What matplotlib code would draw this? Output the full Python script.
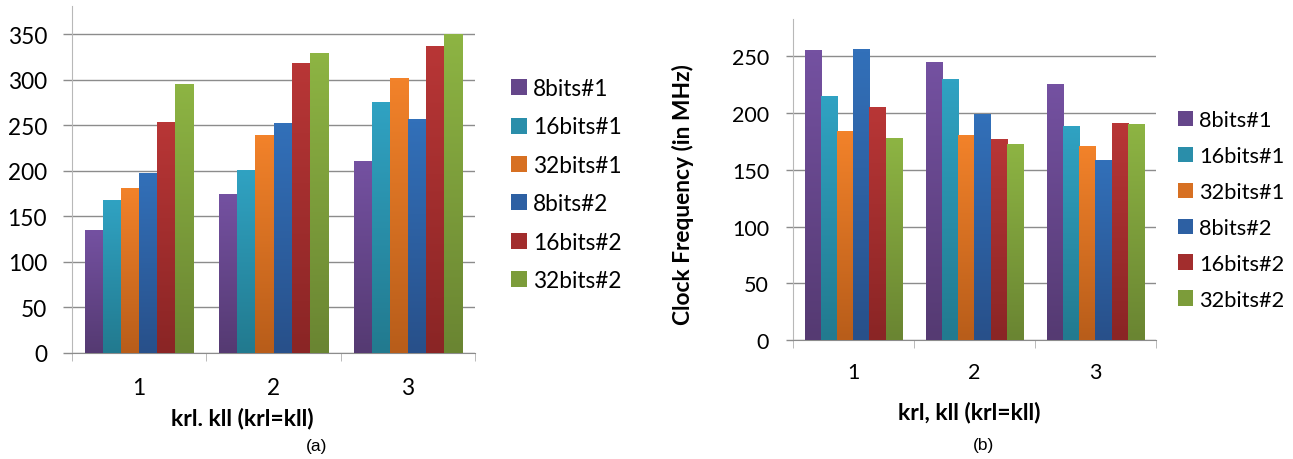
import matplotlib
matplotlib.use("Agg")
import matplotlib.pyplot as plt
import numpy as np
from matplotlib.patches import Patch
from matplotlib.colors import LinearSegmentedColormap

plt.rcParams['font.family'] = ['Lato', 'DejaVu Sans']

categories = ["1", "2", "3"]
series = ["8bits#1", "16bits#1", "32bits#1", "8bits#2", "16bits#2", "32bits#2"]
vals_a = {
    "8bits#1":  [134, 174, 210],
    "16bits#1": [167, 200, 275],
    "32bits#1": [181, 239, 301],
    "8bits#2":  [197, 252, 256],
    "16bits#2": [253, 318, 336],
    "32bits#2": [295, 329, 350],
}
vals_b = {
    "8bits#1":  [255, 245, 225],
    "16bits#1": [215, 230, 188],
    "32bits#1": [184, 180, 171],
    "8bits#2":  [256, 199, 158],
    "16bits#2": [205, 177, 191],
    "32bits#2": [178, 172, 190],
}
top_colors = ["#7451a1", "#30a2c2", "#f2822a", "#3270b9", "#b83636", "#8db443"]
bot_colors = ["#553a72", "#227a8f", "#b85d1a", "#28508a", "#8a2525", "#6a8532"]
mid_colors = ["#65468a", "#2a8eaa", "#d77022", "#2d60a3", "#a22d2d", "#7c9c3a"]

W, H = 1293, 460
fig = plt.figure(figsize=(W / 100, H / 100), dpi=100)

def make_axes(rect, data, ylim, tick_fs, ylen, ypad, xpad):
    ax = fig.add_axes(rect)
    n = len(series)
    bw = 0.134
    x = np.arange(len(categories))
    for i, s in enumerate(series):
        offs = (i - (n - 1) / 2) * bw
        bars = ax.bar(x + offs, data[s], width=bw, color=mid_colors[i], zorder=2, linewidth=0)
        cmap = LinearSegmentedColormap.from_list("g%d" % i, [bot_colors[i], top_colors[i]])
        grad = np.linspace(0, 1, 64).reshape(-1, 1)
        for b in bars:
            x0 = b.get_x(); w = b.get_width(); h = b.get_height()
            ax.imshow(grad, extent=(x0, x0 + w, 0, h), origin='lower', aspect='auto',
                      cmap=cmap, zorder=3, interpolation='bilinear')
    ax.set_xlim(-0.5, len(categories) - 0.5)
    ax.set_ylim(*ylim)
    ax.set_yticks(np.arange(0, ylim[1], 50))
    ax.set_xticks(x)
    ax.set_xticklabels(categories)
    ax.set_xticks(np.arange(-0.5, len(categories)), minor=True)
    ax.tick_params(axis='x', which='major', length=0, labelsize=tick_fs, pad=xpad)
    ax.tick_params(axis='x', which='minor', length=5.5, color='#b0b0b0', direction='out')
    ax.tick_params(axis='y', length=ylen, color='#8c8c8c', labelsize=tick_fs, pad=ypad, width=1)
    ax.grid(axis='y', color='#8c8c8c', linewidth=1, zorder=0)
    ax.set_axisbelow(True)
    for sp in ['top', 'right']:
        ax.spines[sp].set_visible(False)
    ax.spines['left'].set_color('#b8b8b8')
    ax.spines['bottom'].set_color('#8c8c8c')
    return ax

# (a)
ax1 = make_axes([72 / W, 1 - 354 / H, 403 / W, 347 / H], vals_a, (0, 381), 16.3, 6.5, 11.5, 17)
ax1.set_xlabel("krl. kll (krl=kll)", fontsize=16.5, fontweight='bold', va='center')
ax1.xaxis.set_label_coords(0.4218, -0.1873)

# (b)
ax2 = make_axes([792.7 / W, 1 - 341 / H, 363.3 / W, 321 / H], vals_b, (0, 283), 15.5, 5, 12, 16)
ax2.set_xlabel("krl, kll (krl=kll)", fontsize=16.5, fontweight='bold', va='center')
ax2.xaxis.set_label_coords(0.4853, -0.2212)
ax2.set_ylabel("Clock Frequency (in MHz)", fontsize=16.4, fontweight='bold', va='center')
ax2.yaxis.set_label_coords(-0.302, 0.4564)

handles = [Patch(facecolor=c, edgecolor='none') for c in mid_colors]
fig.legend(handles, series, loc='upper left', bbox_to_anchor=(511 / W, 1 - 79 / H),
           frameon=False, fontsize=16.3, handlelength=0.71, handleheight=0.71,
           handletextpad=0.27, labelspacing=0.77, borderaxespad=0, borderpad=0)
fig.legend(handles, series, loc='upper left', bbox_to_anchor=(1178 / W, 1 - 111 / H),
           frameon=False, fontsize=15.7, handlelength=0.69, handleheight=0.69,
           handletextpad=0.28, labelspacing=0.73, borderaxespad=0, borderpad=0)

fig.text(317 / W, 1 - 447 / H, "(a)", fontsize=12.5, family='Liberation Sans', ha='center', va='center')
fig.text(983 / W, 1 - 446 / H, "(b)", fontsize=12.5, family='Liberation Sans', ha='center', va='center')

fig.savefig("out.png", dpi=100)
